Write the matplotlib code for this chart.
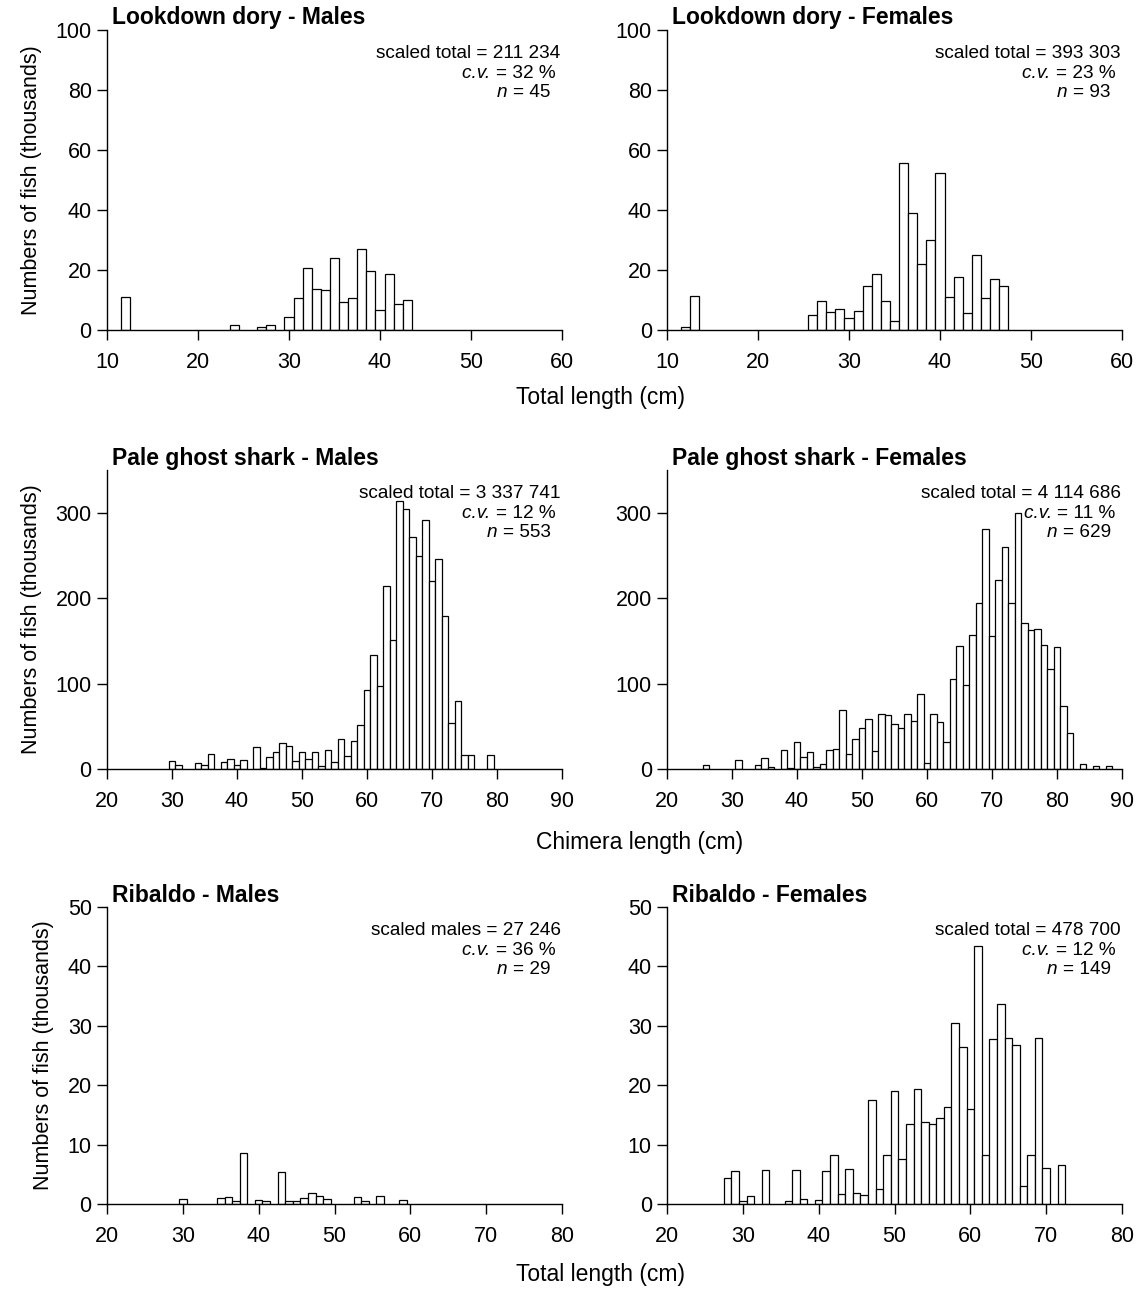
"""
Scaled length frequency distributions by species and sex (6 panels).
"""

import matplotlib
matplotlib.use("Agg")
import matplotlib.pyplot as plt

plt.rcParams['font.family'] = ['Liberation Sans', 'DejaVu Sans']

# Lookdown dory
dory_m_len = [12, 24, 27, 28, 30, 31, 32, 33, 34, 35, 36, 37, 38, 39, 40, 41, 42, 43]
dory_m_num = [11.0, 1.8, 0.9, 1.6, 4.2, 10.7, 20.6, 13.6, 13.2, 24.0, 9.2, 10.7, 26.9, 19.7, 6.7, 18.6, 8.6, 10.1]

dory_f_len = [12, 13, 26, 27, 28, 29, 30, 31, 32, 33, 34, 35, 36, 37, 38, 39, 40, 41, 42, 43, 44, 45, 46, 47]
dory_f_num = [1.0, 11.2, 5.0, 9.5, 6.0, 6.9, 3.9, 6.4, 14.6, 18.5, 9.8, 2.9, 55.6, 39.1, 21.9, 29.9, 52.3,
              10.9, 17.5, 5.5, 25.0, 10.5, 16.9, 14.8]

# Pale ghost shark
pgs_m_len = [30, 31, 34, 35, 36, 38, 39, 40, 41, 43, 44, 45, 46, 47, 48, 49, 50, 51, 52, 53, 54, 55, 56, 57,
             58, 59, 60, 61, 62, 63, 64, 65, 66, 67, 68, 69, 70, 71, 72, 73, 74, 75, 76, 79]
pgs_m_num = [9.0, 5.1, 6.6, 5.1, 17.2, 7.8, 11.7, 5.1, 10.5, 25.7, 1.2, 14.0, 20.3, 30.8, 26.5, 9.4, 19.5,
             11.7, 19.5, 3.1, 21.8, 8.2, 35.1, 15.2, 32.7, 51.5, 92.0, 133.7, 97.1, 214.8, 151.3, 314.2,
             304.1, 271.7, 249.1, 291.6, 219.9, 246.4, 179.7, 53.8, 79.5, 16.4, 16.4, 16.4]

pgs_f_len = [26, 31, 34, 35, 36, 38, 39, 40, 41, 42, 43, 44, 45, 46, 47, 48, 49, 50, 51, 52, 53, 54, 55, 56,
             57, 58, 59, 60, 61, 62, 63, 64, 65, 66, 67, 68, 69, 70, 71, 72, 73, 74, 75, 76, 77, 78, 79, 80,
             81, 82, 84, 86, 88]
pgs_f_num = [4.3, 10.9, 4.3, 12.9, 2.3, 22.6, 0.8, 31.2, 14.0, 19.9, 2.7, 5.5, 22.2, 23.4, 69.0, 17.2, 35.1,
             48.0, 58.9, 20.7, 63.9, 63.2, 52.6, 47.6, 64.7, 55.8, 87.3, 7.4, 63.9, 55.0, 31.2, 104.9, 143.9,
             98.2, 156.7, 194.9, 280.7, 155.6, 221.8, 260.4, 194.9, 299.4, 171.5, 162.6, 164.5, 145.4, 117.0,
             142.3, 73.7, 42.1, 5.8, 3.1, 3.1]

# Ribaldo
rib_m_len = [30, 35, 36, 37, 38, 40, 41, 43, 44, 45, 46, 47, 48, 49, 53, 54, 56, 59]
rib_m_num = [0.8, 1.0, 1.2, 0.5, 8.5, 0.7, 0.5, 5.3, 0.5, 0.5, 1.0, 1.8, 1.3, 0.8, 1.2, 0.5, 1.3, 0.7]

rib_f_len = [28, 29, 30, 31, 33, 36, 37, 38, 40, 41, 42, 43, 44, 45, 46, 47, 48, 49, 50, 51, 52, 53, 54,
             55, 56, 57, 58, 59, 60, 61, 62, 63, 64, 65, 66, 67, 68, 69, 70, 72]
rib_f_num = [4.3, 5.5, 0.5, 1.3, 5.7, 0.5, 5.8, 0.8, 0.6, 5.5, 8.3, 1.7, 5.9, 1.9, 1.5, 17.5, 2.5, 8.3,
             19.0, 7.5, 13.5, 19.3, 13.8, 13.5, 14.5, 16.3, 30.5, 26.5, 16.0, 43.5, 8.3, 27.8, 33.7, 28.0,
             26.8, 3.0, 8.2, 28.0, 6.0, 6.6]

titles = ['Lookdown dory - Males', 'Lookdown dory - Females',
          'Pale ghost shark - Males', 'Pale ghost shark - Females',
          'Ribaldo - Males', 'Ribaldo - Females']
totals = ['scaled total = 211 234', 'scaled total = 393 303',
          'scaled total = 3 337 741', 'scaled total = 4 114 686',
          'scaled males = 27 246', 'scaled total = 478 700']
cvs = ['32', '23', '12', '11', '36', '12']
ns = ['45', '93', '553', '629', '29', '149']


def stat_line(ax, x, y, label, value):
    # italic label followed by upright "= value"
    t = ax.text(x, y, '= ' + value, transform=ax.transAxes, fontsize=13.7, ha='right', va='center')
    ax.annotate(label + ' ', xy=(0, 0.5), xycoords=t, fontsize=13.7, style='italic',
                ha='right', va='center')


def draw_panel(ax, lengths, numbers, xlim, ylim, yticks, title, total, cv, n):
    ax.bar(lengths, numbers, width=1.0, facecolor='white', edgecolor='black', linewidth=0.9)
    ax.set_xlim(*xlim)
    ax.set_ylim(*ylim)
    ax.set_xticks(range(xlim[0], xlim[1] + 1, 10))
    ax.set_yticks(yticks)
    for side in ['top', 'right']:
        ax.spines[side].set_visible(False)
    ax.spines['left'].set_linewidth(1.0)
    ax.spines['bottom'].set_linewidth(1.0)
    ax.tick_params(direction='out', length=7, width=1.0, labelsize=15.5, pad=4)
    ax.tick_params(axis='x', pad=9)
    ax.text(0.012, 1.04, title, transform=ax.transAxes, fontsize=16.5, fontweight='bold',
            ha='left', va='center')
    ax.text(0.997, 0.92, total, transform=ax.transAxes, fontsize=13.7, ha='right', va='center')
    stat_line(ax, 0.985, 0.855, 'c.v.', cv + ' %')
    stat_line(ax, 0.975, 0.79, 'n', n)


def main():
    fig = plt.figure(figsize=(11.41, 12.96), dpi=100)

    lefts = [0.0938, 0.5846]
    w = 0.3988
    rows = [(0.7454, 0.2315), (0.4066, 0.2307), (0.0710, 0.2292)]

    data = [(dory_m_len, dory_m_num), (dory_f_len, dory_f_num),
            (pgs_m_len, pgs_m_num), (pgs_f_len, pgs_f_num),
            (rib_m_len, rib_m_num), (rib_f_len, rib_f_num)]
    xlims = [(10, 60), (20, 90), (20, 80)]
    ylims = [(0, 100), (0, 350), (0, 50)]
    ytick_sets = [range(0, 101, 20), range(0, 301, 100), range(0, 51, 10)]

    for i, (lengths, numbers) in enumerate(data):
        r, c = divmod(i, 2)
        ax = fig.add_axes([lefts[c], rows[r][0], w, rows[r][1]])
        draw_panel(ax, lengths, numbers, xlims[r], ylims[r], ytick_sets[r],
                   titles[i], totals[i], cvs[i], ns[i])
        if c == 0:
            ax.set_ylabel('Numbers of fish (thousands)', fontsize=15.5, labelpad=10)

    fig.text(600 / 1141, 1 - 398 / 1296, 'Total length (cm)', fontsize=16.5, ha='center', va='center')
    fig.text(640 / 1141, 1 - 843 / 1296, 'Chimera length (cm)', fontsize=16.5, ha='center', va='center')
    fig.text(600 / 1141, 1 - 1275 / 1296, 'Total length (cm)', fontsize=16.5, ha='center', va='center')

    fig.savefig('out.png', dpi=100)


if __name__ == "__main__":
    main()
